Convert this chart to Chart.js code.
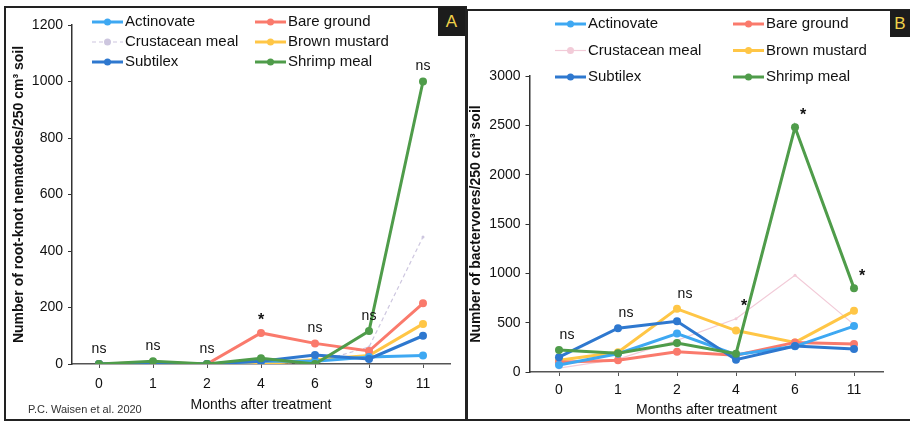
<!DOCTYPE html>
<html>
<head>
<meta charset="utf-8">
<script src="https://cdn.jsdelivr.net/npm/chart.js@4.4.1/dist/chart.umd.min.js"></script>
<style>
  html, body { margin: 0; padding: 0; background: #fff; }
  body { width: 910px; height: 423px; position: relative; overflow: hidden; font-family: "Liberation Sans", Arial, sans-serif; }
  canvas { position: absolute; top: 0; }
  #chartA { left: 0; }
  #chartB { left: 465px; }
  .frame { position: absolute; border: 2px solid #222; box-sizing: border-box; pointer-events: none; }
  .badge { position: absolute; background: #1c1c1c; color: #f0d24a; font-size: 17px; text-align: center; }
  .credit { position: absolute; left: 28px; top: 403px; font-size: 11px; color: #333; }
</style>
</head>
<body>
<canvas id="chartA" width="465" height="423"></canvas>
<canvas id="chartB" width="445" height="423"></canvas>
<div class="frame" style="left:4px;top:6px;width:463px;height:415px;"></div>
<div class="frame" style="left:466px;top:9px;width:446px;height:412px;"></div>
<div class="badge" style="left:438px;top:7px;width:27px;height:29px;line-height:29px;">A</div>
<div class="badge" style="left:890px;top:10px;width:20px;height:27px;line-height:27px;">B</div>
<div class="credit">P.C. Waisen et al. 2020</div>
<script>
// panel A: root-knot nematodes
const monthsA = ["0", "1", "2", "4", "6", "9", "11"];
const actinovateA = [0, 0, 0, 10, 10, 25, 30];
const bareGroundA = [0, 5, 0, 110, 73, 46, 215];
const crustaceanA = [0, 0, 0, 5, 5, 60, 450];
const mustardA = [0, 0, 0, 0, 15, 30, 142];
const subtilexA = [0, 0, 0, 10, 32, 18, 100];
const shrimpA = [0, 10, 0, 20, 0, 117, 1000];
const sigA = ["ns", "ns", "ns", "*", "ns", "ns", "ns"];
const ticksA = [0, 200, 400, 600, 800, 1000, 1200];

// panel B: bacterivores
const monthsB = ["0", "1", "2", "4", "6", "11"];
const actinovateB = [70, 185, 390, 175, 260, 465];
const bareGroundB = [100, 120, 205, 170, 300, 283];
const crustaceanB = [40, 130, 320, 540, 980, 480];
const mustardB = [120, 200, 640, 420, 300, 620];
const subtilexB = [150, 444, 515, 125, 263, 232];
const shrimpB = [222, 190, 293, 185, 2480, 850];
const sigB = ["ns", "ns", "ns", "*", "*", "*"];
const ticksB = [0, 500, 1000, 1500, 2000, 2500, 3000];

const FONT = "'Liberation Sans', Arial, sans-serif";

function series(label, data, color, order, extra) {
  return Object.assign({
    label, data, order,
    borderColor: color, backgroundColor: color,
    pointBackgroundColor: color, pointBorderWidth: 0,
    borderWidth: 3, pointRadius: 4, tension: 0
  }, extra || {});
}

function makeSets(a, b, c, d, e, f, faint, dash) {
  return [
    series("Actinovate", a, "#3ea8f2", 3),
    series("Bare ground", b, "#fa7a6c", 4),
    series("Crustacean meal", c, faint, 6, { borderWidth: 1.2, pointRadius: 1.5, borderDash: dash }),
    series("Brown mustard", d, "#ffc646", 5),
    series("Subtilex", e, "#2e78cf", 2),
    series("Shrimp meal", f, "#4f9c4a", 1)
  ];
}

// two-column legend drawn inside the plot
const gridLegend = {
  id: "gridLegend",
  afterDraw(chart, args, opts) {
    const ctx = chart.ctx;
    ctx.save();
    ctx.font = "15px " + FONT;
    ctx.textBaseline = "middle";
    chart.data.datasets.forEach((ds, i) => {
      const x = i % 2 === 0 ? opts.col1 : opts.col2;
      const y = opts.top + Math.floor(i / 2) * opts.row;
      ctx.strokeStyle = ds.borderColor;
      ctx.lineWidth = ds.borderWidth;
      ctx.setLineDash(ds.borderDash || []);
      ctx.beginPath();
      ctx.moveTo(x, y);
      ctx.lineTo(x + 31, y);
      ctx.stroke();
      ctx.setLineDash([]);
      ctx.fillStyle = ds.borderColor;
      ctx.beginPath();
      ctx.arc(x + 15.5, y, 3.5, 0, Math.PI * 2);
      ctx.fill();
      ctx.fillStyle = "#111";
      ctx.fillText(ds.label, x + 33, y);
    });
    ctx.restore();
  }
};

// significance marks above the highest point of each month
const sigMarks = {
  id: "sigMarks",
  afterDatasetsDraw(chart, args, opts) {
    const ctx = chart.ctx;
    const xs = chart.scales.x, ys = chart.scales.y;
    ctx.save();
    ctx.fillStyle = "#111";
    ctx.textAlign = "center";
    ctx.textBaseline = "middle";
    opts.texts.forEach((t, i) => {
      const top = Math.max(...chart.data.datasets.map(d => d.data[i]));
      const x = xs.getPixelForValue(i) + opts.dx;
      const y = ys.getPixelForValue(top) - 15;
      ctx.font = (t === "*" ? "bold 16px " : "14px ") + FONT;
      ctx.fillText(t, x, t === "*" ? y + 3 : y);
    });
    ctx.restore();
  }
};

function makeChart(id, labels, sets, yTicks, yTitle, box) {
  const step = yTicks[1] - yTicks[0];
  return new Chart(document.getElementById(id), {
    type: "line",
    data: { labels, datasets: sets },
    plugins: [gridLegend, sigMarks],
    options: {
      responsive: false,
      animation: false,
      devicePixelRatio: 1,
      layout: { padding: { top: box.top, right: box.right, bottom: 0, left: 0 } },
      plugins: {
        legend: { display: false },
        tooltip: { enabled: false },
        gridLegend: box.legend,
        sigMarks: { texts: box.sig, dx: box.sigDx }
      },
      scales: {
        x: {
          offset: true,
          afterFit: s => { s.height = box.xh; },
          grid: { display: true, drawOnChartArea: false, offset: false, tickLength: 4, color: "#555" },
          border: { color: "#555", width: 1.5 },
          ticks: { color: "#111", font: { family: FONT, size: 14 }, padding: box.xPad, maxRotation: 0 },
          title: { display: true, text: "Months after treatment", color: "#111",
                   font: { family: FONT, size: 14 }, padding: { top: 0, bottom: box.xTitlePad } }
        },
        y: {
          min: yTicks[0],
          max: yTicks[yTicks.length - 1],
          afterFit: s => { s.width = box.yw; },
          afterBuildTicks: s => { s.ticks = yTicks.map(v => ({ value: v })); },
          grid: { display: true, drawOnChartArea: false, tickLength: 4, color: "#333" },
          border: { color: "#333", width: 1.5 },
          ticks: { stepSize: step, color: "#111", font: { family: FONT, size: 14 }, padding: 5,
                   callback: v => String(v) },
          title: { display: true, text: yTitle, color: "#111",
                   font: { family: FONT, size: 14, weight: "bold" }, padding: { top: box.yTitlePad, bottom: 0 } }
        }
      }
    }
  });
}

makeChart("chartA", monthsA,
  makeSets(actinovateA, bareGroundA, crustaceanA, mustardA, subtilexA, shrimpA, "#cdc6df", [4, 3]),
  ticksA, "Number of root-knot nematodes/250 cm\u00b3 soil",
  { top: 25, right: 15, xh: 59, yw: 72, xPad: 8, xTitlePad: 9.6, yTitlePad: 10.6,
    sig: sigA, sigDx: 0,
    legend: { col1: 92, col2: 255, top: 22, row: 20 } });

makeChart("chartB", monthsB,
  makeSets(actinovateB, bareGroundB, crustaceanB, mustardB, subtilexB, shrimpB, "#f2cbd8", []),
  ticksB, "Number of bactervores/250 cm\u00b3 soil",
  { top: 76, right: 26.5, xh: 51, yw: 64.5, xPad: 6, xTitlePad: 4.6, yTitlePad: 3,
    sig: sigB, sigDx: 8,
    legend: { col1: 90, col2: 268, top: 24, row: 26.5 } });
</script>
</body>
</html>
